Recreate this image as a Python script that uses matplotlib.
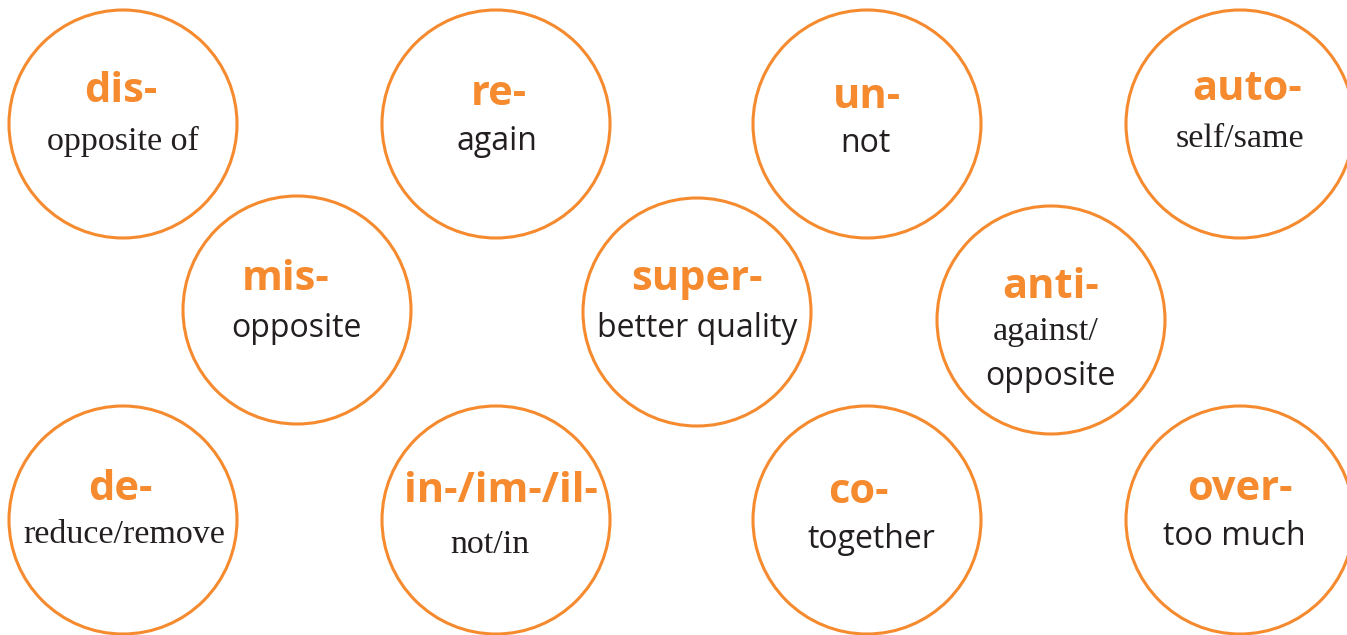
import matplotlib.pyplot as plt
from matplotlib.patches import Circle

# prefixes and their meanings
prefixes = ["dis-", "re-", "un-", "auto-",
            "mis-", "super-", "anti-",
            "de-", "in-/im-/il-", "co-", "over-"]
meanings = ["opposite of", "again", "not", "self/same",
            "opposite", "better quality", "against/\nopposite",
            "reduce/remove", "not/in", "together", "too much"]

# layout (pixel coords, y down)
cx = [123, 496, 867, 1240, 297, 697, 1051, 123, 496, 867, 1240]
cy = [124, 124, 124, 124, 310, 312, 320, 520, 520, 520, 520]
R = 114
# text anchor offsets for the title / meaning lines
title_xy = [(121, 102), (499, 105), (867, 108), (1247, 100), (286, 290), (697, 290),
            (1051, 298), (120, 500), (501, 502), (858, 503), (1240, 500)]
sub_xy = [(123, 150), (497, 150), (865, 152), (1240, 147), (296, 337), (697, 337),
          (1046, 340), (124, 543), (490, 553), (871, 548), (1234, 545)]

ORANGE = "#F58A2E"
DARK = "#231F20"
SERIF = "Liberation Serif"
SANS = "Open Sans"

fig = plt.figure(figsize=(13.47, 6.35), dpi=100)
ax = fig.add_axes([0, 0, 1, 1])
ax.set_xlim(0, 1347)
ax.set_ylim(635, 0)
ax.set_aspect("equal")
ax.axis("off")

for i in range(len(prefixes)):
    ax.add_patch(Circle((cx[i], cy[i]), R, fill=False, edgecolor=ORANGE, lw=2.2))
    tx, ty = title_xy[i]
    ax.text(tx, ty, prefixes[i], color=ORANGE, fontsize=30, fontweight="bold",
            family="Open Sans", ha="center", va="baseline")
    sx, sy = sub_xy[i]
    m = meanings[i]
    if i == 6:
        # "against/" serif, "opposite" sans
        ax.text(sx, sy, "against/", color=DARK, fontsize=24.5, family=SERIF,
                ha="center", va="baseline")
        ax.text(1050, 385, "opposite", color=DARK, fontsize=23, family=SANS,
                ha="center", va="baseline")
        continue
    serif = m in ("opposite of", "self/same", "reduce/remove", "not/in")
    ax.text(sx, sy, m, color=DARK, fontsize=24.5 if serif else 23,
            family=SERIF if serif else SANS, ha="center", va="baseline")

fig.savefig("out.png", dpi=100)
